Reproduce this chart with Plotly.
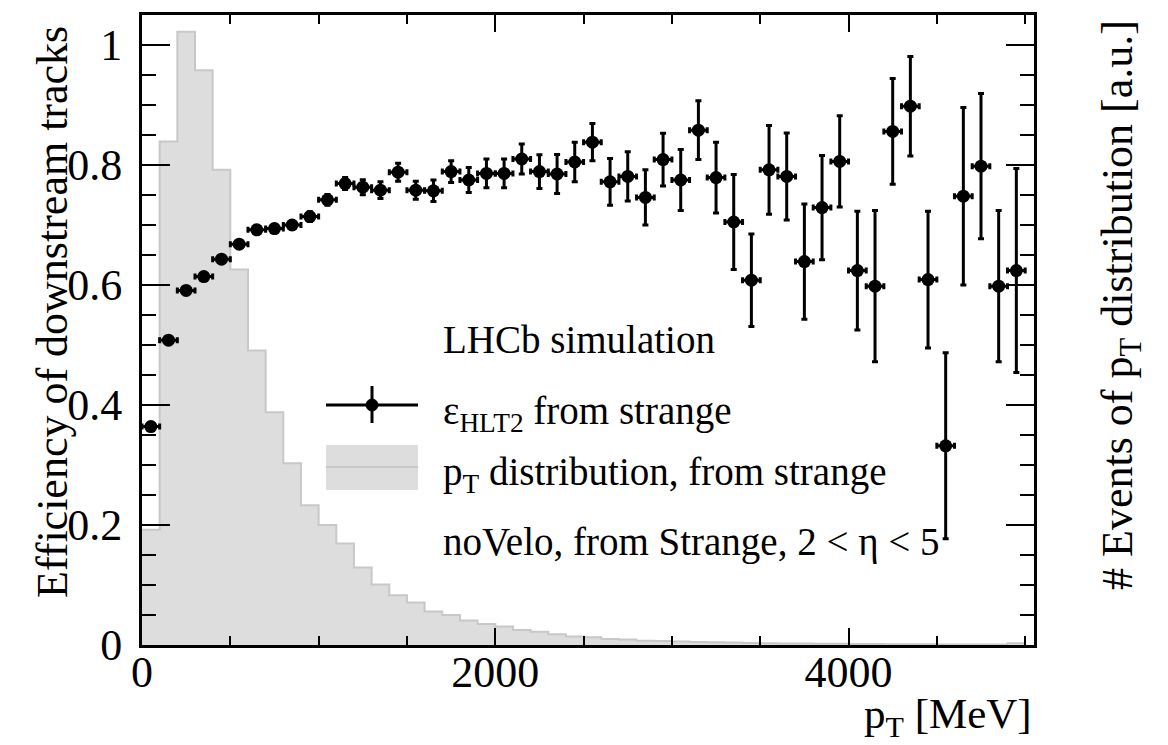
import plotly.graph_objects as go

# Binning: 50 bins of 100 MeV between 0 and 5000 MeV
bin_width = 100
bin_edges = [i * bin_width for i in range(51)]
bin_centers = [e + bin_width / 2 for e in bin_edges[:-1]]

# HLT2 efficiency of downstream tracks from strange decays
efficiency = [
    0.364, 0.508, 0.591, 0.614, 0.643, 0.668, 0.692, 0.694, 0.700, 0.714,
    0.742, 0.769, 0.763, 0.758, 0.788, 0.758, 0.757, 0.789, 0.775, 0.786,
    0.786, 0.810, 0.789, 0.785, 0.805, 0.838, 0.772, 0.781, 0.746, 0.809,
    0.775, 0.858, 0.779, 0.705, 0.608, 0.792, 0.781, 0.639, 0.729, 0.806,
    0.624, 0.598, 0.856, 0.898, 0.609, 0.332, 0.748, 0.798, 0.598, 0.624,
]
efficiency_err = [
    0.004, 0.004, 0.004, 0.005, 0.005, 0.006, 0.006, 0.007, 0.007, 0.008,
    0.009, 0.010, 0.0125, 0.014, 0.015, 0.015, 0.018, 0.018, 0.021, 0.024,
    0.024, 0.025, 0.028, 0.0325, 0.033, 0.031, 0.039, 0.041, 0.046, 0.044,
    0.051, 0.049, 0.059, 0.079, 0.077, 0.074, 0.0725, 0.096, 0.087, 0.076,
    0.099, 0.126, 0.088, 0.083, 0.114, 0.155, 0.148, 0.121, 0.126, 0.170,
]

# pT distribution of the same tracks (arbitrary units)
pt_distribution = [
    0.192, 0.839, 1.022, 0.958, 0.792, 0.626, 0.491, 0.388, 0.303, 0.233,
    0.200, 0.169, 0.129, 0.101, 0.083, 0.071, 0.056, 0.050, 0.041, 0.035,
    0.031, 0.025, 0.022, 0.018, 0.014, 0.013, 0.010, 0.009, 0.0072, 0.0067,
    0.006, 0.005, 0.0045, 0.004, 0.0035, 0.003, 0.0027, 0.0024, 0.0021, 0.0019,
    0.0017, 0.0015, 0.0013, 0.0012, 0.0011, 0.0010, 0.0009, 0.0008, 0.0007, 0.003,
]

x_tick_values = [0, 2000, 4000]
y_tick_values = [0, 0.2, 0.4, 0.6, 0.8, 1.0]
y_tick_text = ["0", "0.2", "0.4", "0.6", "0.8", "1"]

FONT = "Liberation Serif"
HIST_FILL = "rgb(221,221,221)"
HIST_LINE = "rgb(200,200,200)"

fig = go.Figure()

# Step histogram of the pT distribution
step_x = bin_edges[:-1] + [bin_edges[-1], bin_edges[-1]]
step_y = pt_distribution + [pt_distribution[-1], 0]
fig.add_trace(go.Scatter(
    x=step_x, y=step_y, mode="lines", line_shape="hv",
    line=dict(color=HIST_LINE, width=2),
    fill="tozeroy", fillcolor=HIST_FILL,
    hoverinfo="skip", showlegend=False,
))

# Efficiency points with bin-width x errors
fig.add_trace(go.Scatter(
    x=bin_centers, y=efficiency, mode="markers",
    marker=dict(color="black", size=13),
    error_y=dict(type="data", array=efficiency_err, color="black", thickness=3, width=3),
    error_x=dict(type="constant", value=bin_width / 2, color="black", thickness=3, width=3),
    showlegend=False,
))

# Plot area in pixels: x 142..1034, y 15..645
L, R, T, B = 142, 1034, 15, 645
W, H = R - L, B - T


def px(xp):
    return (xp - L) / W


def py(yp):
    return (B - yp) / H


shapes = [
    # legend: efficiency marker with error bars
    dict(type="line", xref="paper", yref="paper", x0=px(326), x1=px(418), y0=py(405), y1=py(405),
         line=dict(color="black", width=3)),
    dict(type="line", xref="paper", yref="paper", x0=px(372), x1=px(372), y0=py(386), y1=py(423),
         line=dict(color="black", width=3)),
    dict(type="circle", xref="paper", yref="paper", x0=px(366), x1=px(378), y0=py(399), y1=py(411),
         fillcolor="black", line=dict(color="black", width=1)),
    # legend: histogram box
    dict(type="rect", xref="paper", yref="paper", x0=px(326), x1=px(418), y0=py(445), y1=py(490),
         fillcolor=HIST_FILL, line=dict(width=0)),
    dict(type="line", xref="paper", yref="paper", x0=px(326), x1=px(418), y0=py(467), y1=py(467),
         line=dict(color=HIST_LINE, width=2)),
]

annotations = [
    dict(text="LHCb simulation", x=px(441), y=py(340), xanchor="left", yanchor="middle",
         font=dict(size=39)),
    dict(text="ε<sub>HLT2</sub> from strange", x=px(441), y=py(413), xanchor="left", yanchor="middle",
         font=dict(size=39)),
    dict(text="p<sub>T</sub> distribution, from strange", x=px(441), y=py(474), xanchor="left",
         yanchor="middle", font=dict(size=39)),
    dict(text="noVelo, from Strange, 2 &lt; η &lt; 5", x=px(441), y=py(542), xanchor="left",
         yanchor="middle", font=dict(size=39)),
    dict(text="Efficiency of downstream tracks", x=px(52), y=py(312), textangle=-90,
         xanchor="center", yanchor="middle", font=dict(size=44)),
    dict(text="# Events of p<sub>T</sub> distribution [a.u.]", x=px(1120), y=py(305), textangle=-90,
         xanchor="center", yanchor="middle", font=dict(size=44)),
    dict(text="p<sub>T</sub> [MeV]", x=px(1034), y=py(717), xanchor="right", yanchor="middle",
         font=dict(size=43)),
]
for a in annotations:
    a.update(xref="paper", yref="paper", showarrow=False)

fig.update_layout(
    width=1168, height=745,
    margin=dict(l=L, r=1168 - R, t=T, b=745 - B),
    paper_bgcolor="white", plot_bgcolor="white",
    font=dict(family=FONT, color="black", size=44),
    shapes=shapes, annotations=annotations,
    showlegend=False,
)

fig.update_xaxes(
    range=[0, 5050], tickvals=x_tick_values, ticks="inside", ticklen=17, tickwidth=2,
    tickcolor="black", showline=True, linecolor="black", linewidth=3, mirror="allticks",
    showgrid=False, zeroline=False, tickfont=dict(size=44), ticklabelstandoff=-14,
    minor=dict(dtick=500, tick0=0, ticks="inside", ticklen=9, tickwidth=2, tickcolor="black",
               showgrid=False),
)
fig.update_yaxes(
    range=[0, 1.05], tickvals=y_tick_values, ticktext=y_tick_text, ticks="inside", ticklen=28,
    tickwidth=2, tickcolor="black", showline=True, linecolor="black", linewidth=3,
    mirror="allticks", showgrid=False, zeroline=False, tickfont=dict(size=44), ticklabelstandoff=8,
    minor=dict(dtick=0.05, tick0=0, ticks="inside", ticklen=14, tickwidth=2, tickcolor="black",
               showgrid=False),
)

fig.write_html("out.html")
